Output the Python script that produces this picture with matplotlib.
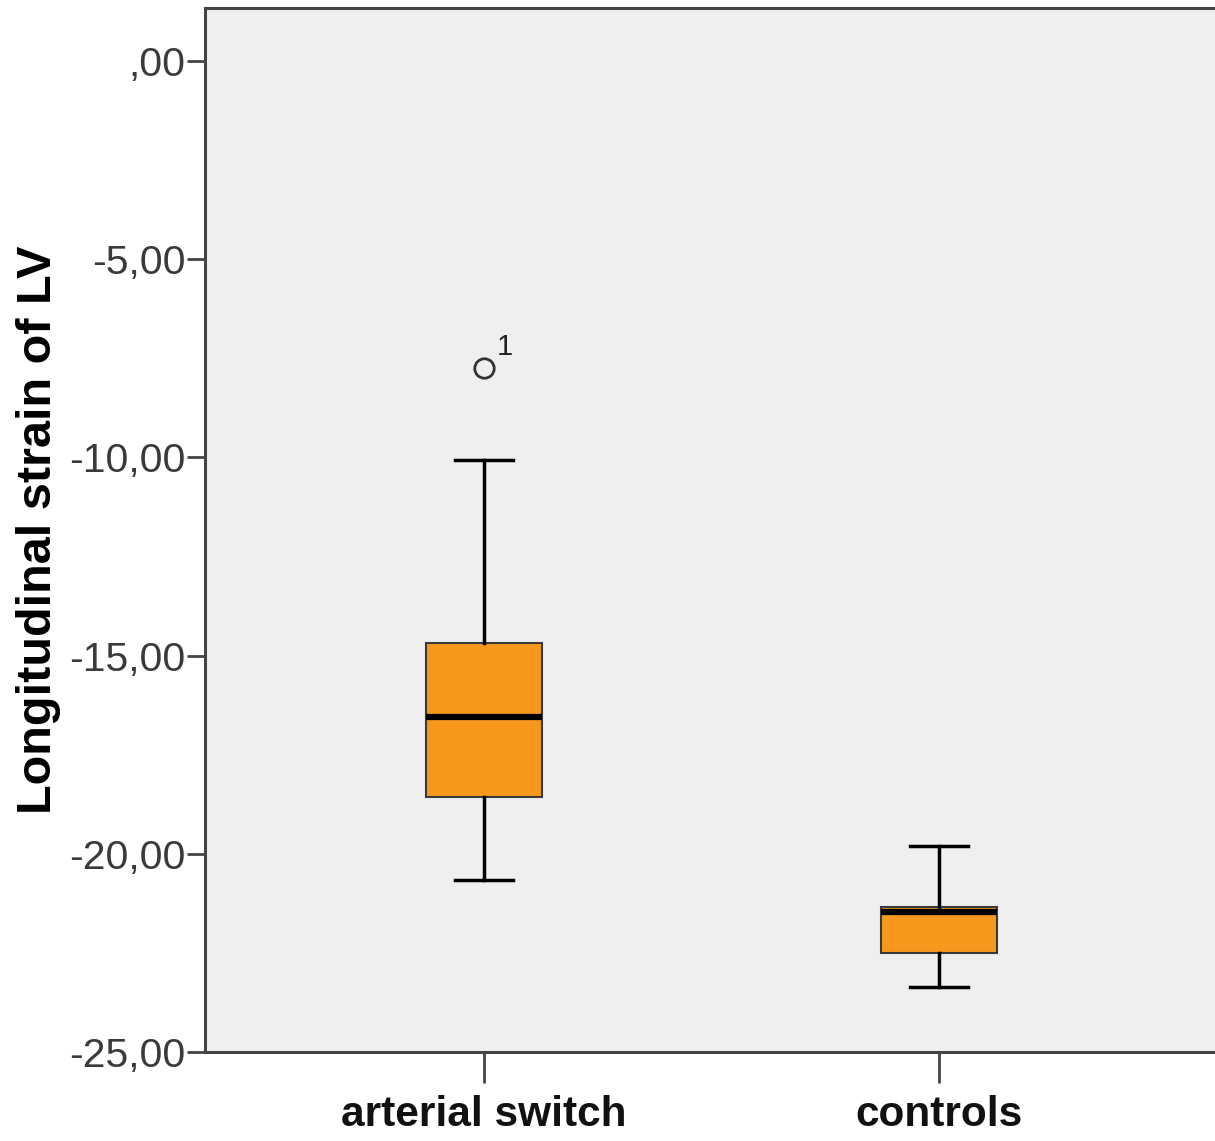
import matplotlib.pyplot as plt
from matplotlib.ticker import FuncFormatter

plt.rcParams['font.family'] = ['Liberation Sans', 'DejaVu Sans']

# values
groups = ["arterial switch", "controls"]
q1 = [-18.57, -22.50]
median = [-16.55, -21.47]
q3 = [-14.68, -21.34]
whislo = [-20.66, -23.36]
whishi = [-10.07, -19.80]
outliers = [[-7.74], []]
outlier_ids = [["1"], []]
yticks = [0, -5, -10, -15, -20, -25]

stats = []
for i, g in enumerate(groups):
    stats.append(dict(label=g, q1=q1[i], med=median[i], q3=q3[i],
                      whislo=whislo[i], whishi=whishi[i], fliers=outliers[i]))

fig = plt.figure(figsize=(12.15, 11.41), dpi=100)
ax = fig.add_axes([205/1215, 89/1141, 1 - 205/1215, (1052 - 8)/1141])
ax.set_facecolor("#efefef")

pos = [1, 2]
ax.bxp(stats, positions=pos, widths=0.253, capwidths=0.127, patch_artist=True,
       boxprops=dict(facecolor="#f7981d", edgecolor="#3a3a3a", linewidth=1.5),
       medianprops=dict(color="black", linewidth=4.5, solid_capstyle="butt"),
       whiskerprops=dict(color="black", linewidth=2.5),
       capprops=dict(color="black", linewidth=2.5),
       flierprops=dict(marker="o", markersize=14, markerfacecolor="none",
                       markeredgecolor="#333333", markeredgewidth=2.0))

for i, ids in enumerate(outlier_ids):
    for v, t in zip(outliers[i], ids):
        ax.annotate(t, (pos[i], v), xytext=(9, 5), textcoords="offset points",
                    fontsize=21, color="#222222", va="bottom", ha="left")

ax.set_xlim(0.3868, 2.6066)
ax.set_ylim(-25, 1.337)
ax.set_yticks(yticks)
ax.yaxis.set_major_formatter(FuncFormatter(
    lambda v, p: ",00" if v == 0 else ("%.2f" % v).replace(".", ",")))
ax.set_xticks(pos)
ax.set_xticklabels(groups, fontsize=30.5, fontweight="bold", color="#111111")

ax.tick_params(axis="y", length=13, width=2, color="#444444", labelsize=29.5,
               labelcolor="#3a3a3a", pad=1)
ax.tick_params(axis="x", length=22, width=2, color="#444444", pad=9)

for s in ["left", "bottom", "top"]:
    ax.spines[s].set_color("#444444")
    ax.spines[s].set_linewidth(2.2)
ax.spines["right"].set_visible(False)

ax.set_ylabel("Longitudinal strain of LV", fontsize=35, fontweight="bold",
              color="black", labelpad=6)

fig.savefig("out.png", dpi=100)
